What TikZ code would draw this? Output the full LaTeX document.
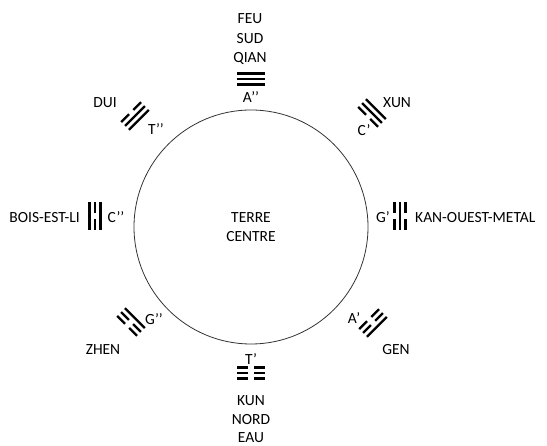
\documentclass[tikz,border=0pt]{standalone}
\usepackage{fontspec}
\setmainfont{Carlito}

% one trigram: centre, rotation, then top (outer) / middle / bottom (inner) line
\newcommand{\gua}[5]{%
  \begin{scope}[shift={#1}, rotate=#2]
    \pic[transform shape] at (0,5.5) {#3};
    \pic[transform shape] at (0,0) {#4};
    \pic[transform shape] at (0,-5.5) {#5};
  \end{scope}}

\begin{document}
\begin{tikzpicture}[
        x=1pt, y=1pt,
        lbl/.style={font=\fontsize{15.5}{20}\selectfont, inner sep=0pt, anchor=base},
        yao/.style={line width=2.2pt, black},
        yang/.pic={\draw[yao] (-14,0) -- (14,0);},
        yin/.pic={\draw[yao] (-14,0) -- (-3,0) (3,0) -- (14,0);}
    ]
        \useasboundingbox (0,0) rectangle (547,446);

        % Centre
        \node[circle, draw=black!80, line width=0.8pt, minimum size=234pt] (terre) at (251,219) {};
        \node[lbl] (terrelbl) at (251,223) {TERRE};
        \node[lbl] (centrelbl) at (251,204) {CENTRE};

        % Trigrams
        \gua{(251,367)}{0}{yang}{yang}{yang}
        \gua{(251,73)}{180}{yin}{yin}{yin}
        \gua{(95,230)}{90}{yang}{yin}{yang}
        \gua{(400,230)}{-90}{yin}{yang}{yin}
        \gua{(135,330)}{45}{yin}{yang}{yang}
        \gua{(372,333)}{-45}{yang}{yang}{yin}
        \gua{(131,124)}{135}{yin}{yin}{yang}
        \gua{(373,123)}{225}{yang}{yin}{yin}

        % Top
        \node[lbl] (feu) at (250,422) {FEU};
        \node[lbl] (sud) at (250,402) {SUD};
        \node[lbl] (qian) at (250,383) {QIAN};
        \node[lbl] (aqq) at (251,343) {A’’};

        % Bottom
        \node[lbl] (tq) at (251,81) {T’};
        \node[lbl] (kun) at (251,40) {KUN};
        \node[lbl] (nord) at (251,21) {NORD};
        \node[lbl] (eau) at (251,3) {EAU};

        % Sides
        \node[lbl, anchor=base east] (bois) at (80,223) {BOIS-EST-LI};
        \node[lbl] (cqq) at (116,223) {C’’};
        \node[lbl] (gq) at (383,223) {G’};
        \node[lbl, anchor=base west] (kan) at (415,223) {KAN-OUEST-METAL};

        % Diagonals
        \node[lbl] (dui) at (105,338) {DUI};
        \node[lbl] (tqq) at (156,311) {T’’};
        \node[lbl] (xun) at (397,338) {XUN};
        \node[lbl] (cq) at (364,310) {C’};
        \node[lbl] (zhen) at (103,91) {ZHEN};
        \node[lbl] (gqq) at (154,121) {G’’};
        \node[lbl] (gen) at (396,91) {GEN};
        \node[lbl] (aq) at (354,122) {A’};
    \end{tikzpicture}
\end{document}
